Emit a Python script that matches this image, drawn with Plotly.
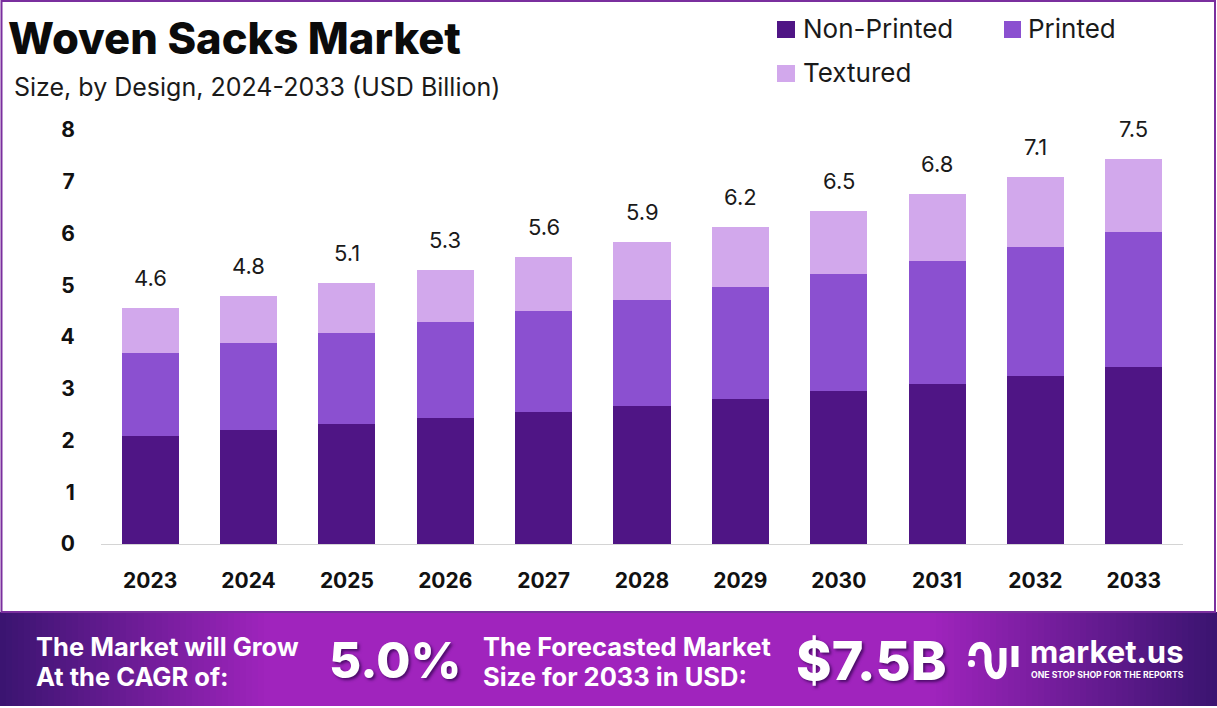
import plotly.graph_objects as go

W, H = 1217, 708
# plot area in page pixels
L, R, T, B = 101, 1183, 130, 544

years = ["2023", "2024", "2025", "2026", "2027", "2028", "2029", "2030", "2031", "2032", "2033"]
non_printed = [2.09, 2.20, 2.32, 2.43, 2.55, 2.67, 2.80, 2.96, 3.09, 3.25, 3.42]
printed = [1.60, 1.68, 1.76, 1.86, 1.95, 2.04, 2.17, 2.26, 2.38, 2.49, 2.61]
textured = [0.87, 0.91, 0.96, 1.00, 1.05, 1.13, 1.16, 1.21, 1.29, 1.35, 1.41]
totals = [4.6, 4.8, 5.1, 5.3, 5.6, 5.9, 6.2, 6.5, 6.8, 7.1, 7.5]
bar_tops = [a + b + c for a, b, c in zip(non_printed, printed, textured)]

FONT = "Inter"
DARK = "#4f1585"
MID = "#8b50d0"
LIGHT = "#d2a8ec"


# paper coordinates are relative to the plot area
def px(x):
    return (x - L) / (R - L)


def py(y):
    return (B - y) / (B - T)


fig = go.Figure()
for name, vals, col in [("Non-Printed", non_printed, DARK), ("Printed", printed, MID), ("Textured", textured, LIGHT)]:
    fig.add_trace(go.Bar(x=years, y=vals, name=name, marker=dict(color=col, line=dict(width=0)), width=0.58))

shapes = []


def lerp(c1, c2, t):
    return "rgb(%d,%d,%d)" % tuple(round(a + (b - a) * t) for a, b in zip(c1, c2))


def rect(x0, x1, y0, y1, col, layer="above"):
    return dict(type="rect", xref="paper", yref="paper", x0=px(x0), x1=px(x1), y0=py(y0), y1=py(y1),
                fillcolor=col, line=dict(width=0), layer=layer)


# banner gradient, built from thin strips
edge = (58, 20, 112)
centre = (160, 36, 189)
for i in range(0, W, 6):
    mid_x = i + 3
    if mid_x < 270:
        col = lerp(edge, centre, mid_x / 270)
    elif mid_x > 930:
        col = lerp(centre, edge, (mid_x - 930) / (W - 930))
    else:
        col = lerp(centre, centre, 0)
    shapes.append(rect(i, i + 7, 706, 612, col, "below"))

# frame
shapes.append(dict(type="rect", xref="paper", yref="paper", x0=px(1.5), x1=px(1215), y0=py(612), y1=py(1),
                   line=dict(color="#7a2f9e", width=2), layer="below"))

# legend swatches
shapes.append(rect(777, 795, 21, 38, DARK))
shapes.append(rect(1004, 1021, 21, 38, MID))
shapes.append(rect(777, 795, 65, 82, LIGHT))

# logo mark
logo = (f"M {px(972)},{py(656)} C {px(972)},{py(642)} {px(987)},{py(642)} {px(988)},{py(655)} "
        f"L {px(988)},{py(662)} C {px(989)},{py(680)} {px(1003)},{py(680)} {px(1003)},{py(664)} L {px(1003)},{py(648)}")
shapes.append(dict(type="path", xref="paper", yref="paper", path=logo, line=dict(color="white", width=7)))
shapes.append(dict(type="line", xref="paper", yref="paper", x0=px(1015), x1=px(1015), y0=py(646), y1=py(667),
                   line=dict(color="white", width=7)))
shapes.append(dict(type="circle", xref="paper", yref="paper", x0=px(968), x1=px(975), y0=py(667), y1=py(660),
                   fillcolor="white", line=dict(width=0)))


def note(text, x, y, size, color="#111111", weight=400, anchor="left", shadow=None):
    return dict(text=text, xref="paper", yref="paper", x=px(x), y=py(y), xanchor=anchor, yanchor="middle",
                showarrow=False, align="left",
                font=dict(family=FONT, size=size, color=color, weight=weight, shadow=shadow or "none"))


SHADOW = "2px 2px 3px rgba(40,0,70,0.7)"
annotations = [
    note("Woven Sacks Market", 6, 38, 43.5, "#0b0b0b", 800),
    note("Size, by Design, 2024-2033 (USD Billion)", 12, 87, 25, "#1a1a1a"),
    note("Non-Printed", 801, 28, 26, "#1a1a1a"),
    note("Printed", 1026, 28, 26, "#1a1a1a"),
    note("Textured", 801, 72, 26, "#1a1a1a"),
    note("The Market will Grow", 34, 646, 25.5, "white", 700),
    note("At the CAGR of:", 34, 676, 25.5, "white", 700),
    note("5.0%", 327, 660, 49.5, "white", 800, shadow=SHADOW),
    note("The Forecasted Market", 481, 646, 25.5, "white", 700),
    note("Size for 2033 in USD:", 481, 676, 25.5, "white", 700),
    note("$7.5B", 794, 660, 54, "white", 800, shadow=SHADOW),
    note("market.us", 1028, 651.5, 31, "white", 700),
    note("ONE STOP SHOP FOR THE REPORTS", 1029, 675, 8.7, "white", 700),
]
for i, (top, lab) in enumerate(zip(bar_tops, totals)):
    annotations.append(dict(x=i, y=top, text=f"{lab:.1f}", showarrow=False, yshift=30, yanchor="middle",
                            font=dict(family=FONT, size=22, color="#1a1a1a")))

fig.update_layout(
    width=W, height=H, autosize=False,
    barmode="stack",
    margin=dict(l=L, r=W - R, t=T, b=H - B, pad=0),
    paper_bgcolor="white", plot_bgcolor="white",
    font=dict(family=FONT, color="#111111"),
    showlegend=False,
    shapes=shapes,
    annotations=annotations,
    xaxis=dict(type="category", range=[-0.5, 10.5], showgrid=False, showline=True, linecolor="#d4d4d4", linewidth=1,
               ticks="outside", ticklen=18, tickcolor="rgba(0,0,0,0)",
               tickfont=dict(family=FONT, size=21, color="#111111", weight=700)),
    yaxis=dict(range=[0, 8], dtick=1, showgrid=False, zeroline=False, showline=False,
               ticks="outside", ticklen=21, tickcolor="rgba(0,0,0,0)",
               tickfont=dict(family=FONT, size=21, color="#111111", weight=700)),
)

# the page's default body margin would push the fixed-size figure off the window
fig.write_html("out.html", config=dict(displayModeBar=False), post_script="document.body.style.margin='0';")
